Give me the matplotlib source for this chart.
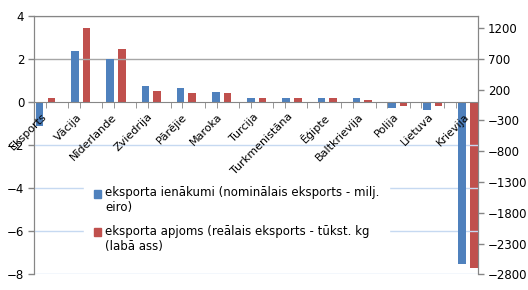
import numpy as np
import matplotlib.pyplot as plt
from matplotlib.patches import Patch, Rectangle
from matplotlib.legend_handler import HandlerPatch
from matplotlib.transforms import ScaledTranslation

kategorijas = ["Eksports", "Vācija", "Nīderlande", "Zviedrija", "Pārējie", "Maroka",
               "Turcija", "Turkmenistāna", "Ēģipte", "Baltkrievija", "Polija",
               "Lietuva", "Krievija"]
ienakumi = [-1.12, 2.35, 2.0, 0.76, 0.66, 0.44, 0.2, 0.16, 0.16, 0.16, -0.27, -0.39, -7.5]
apjoms = [55, 1205, 865, 180, 145, 145, 55, 55, 55, 35, -65, -65, -2700]
kreisas_ticks = [4, 2, 0, -2, -4, -6, -8]
labas_ticks = [1200, 700, 200, -300, -800, -1300, -1800, -2300, -2800]

blue = "#4F81BD"
red = "#C0504D"
axis_gray = "#868686"
grid_gray = "#A6A6A6"
grid_blue = "#C6D9F1"

plt.rcParams["font.family"] = ["DejaVu Sans"]
fig = plt.figure(figsize=(5.28, 2.9), dpi=100)
ax = fig.add_axes([0.0644, 0.054, 0.841, 0.892])
ax2 = ax.twinx()

n = len(kategorijas)
x = np.arange(n)
w = 0.215
ax.bar(x - 0.165, ienakumi, w, color=blue, zorder=3)
ax2.bar(x + 0.165, apjoms, w, color=red, zorder=3)

x0, x1 = -0.327, 12.287
ax.set_xlim(x0, x1)
ax.set_ylim(-8, 4)
ax2.set_ylim(-2800, 1400)

# gridlines
for t in kreisas_ticks:
    if t > 0:
        ax.axhline(t, color=grid_gray, lw=1, zorder=1)
    elif t < 0:
        ax.axhline(t, color=grid_blue, lw=1, zorder=1)

ax.set_yticks(kreisas_ticks)
ax2.set_yticks(labas_ticks)

for a in (ax, ax2):
    a.tick_params(axis="y", colors=axis_gray, labelcolor="black", labelsize=8.5,
                  length=4, width=1, direction="out", pad=3)
    for s in a.spines.values():
        s.set_color(axis_gray)

ax2.spines["bottom"].set_visible(False)
ax.spines["bottom"].set_position(("data", 0))
ax.spines["bottom"].set_zorder(4)
ax2.spines["top"].set_color(grid_gray)

# small tick marks on the category axis (two offset sets, as in the source chart)
frac = np.concatenate([np.arange(1, 13) / 13, 0.0264 + np.arange(13) / 13])
ax.set_xticks(x0 + frac * (x1 - x0), minor=True)
ax.set_xticks(x)
ax.tick_params(axis="x", which="major", length=0, pad=7)
ax.tick_params(axis="x", which="minor", length=4, colors=axis_gray, direction="out")
ax.set_xticklabels(kategorijas, rotation=45, ha="right", va="top",
                   rotation_mode="anchor", fontsize=8)
shift = ScaledTranslation(-4 / 100, 0, fig.dpi_scale_trans)
for lbl in ax.get_xticklabels():
    lbl.set_transform(lbl.get_transform() + shift)
ax.xaxis.set_zorder(4)

ax.set_zorder(ax2.get_zorder() + 1)
ax.patch.set_visible(False)


def top_square(legend, orig_handle, xdescent, ydescent, width, height, fontsize):
    return Rectangle((-xdescent, -ydescent + 0.62 * fontsize), width, height)


handles = [Patch(color=blue), Patch(color=red)]
labels = ["eksporta ienākumi (nominālais eksports - milj.\neiro)",
          "eksporta apjoms (reālais eksports - tūkst. kg\n(labā ass)"]
leg = ax.legend(handles, labels, loc="upper left", bbox_to_anchor=(0.1, 0.4),
                frameon=True, fontsize=8.5, handlelength=0.65, handleheight=0.65,
                handletextpad=0.3, labelspacing=0.9, borderpad=0.8,
                handler_map={Patch: HandlerPatch(patch_func=top_square)})
leg.get_frame().set_edgecolor("white")
leg.get_frame().set_facecolor("white")
leg.get_frame().set_alpha(1)
leg.get_frame().set_boxstyle("square", pad=0)

fig.savefig("out.png", dpi=100)
